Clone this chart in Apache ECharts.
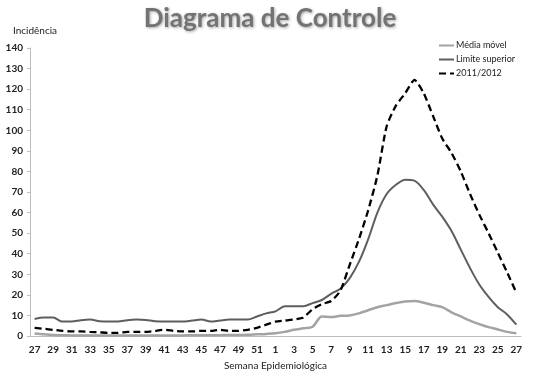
<!DOCTYPE html>
<html>
<head>
<meta charset="utf-8">
<script src="https://cdn.jsdelivr.net/npm/echarts@6/dist/echarts.min.js"></script>
<style>
  html, body { margin: 0; padding: 0; background: #fff; }
  #chart { width: 538px; height: 376px; }
</style>
</head>
<body>
<div id="chart"></div>
<script>
// semanas epidemiológicas 27/2011 .. 27/2012
var semanas = [
  '27','28','29','30','31','32','33','34','35','36','37','38','39','40',
  '41','42','43','44','45','46','47','48','49','50','51','52',
  '1','2','3','4','5','6','7','8','9','10','11','12','13','14','15',
  '16','17','18','19','20','21','22','23','24','25','26','27'
];

// média móvel
var mediaMovel = [
  1.2, 0.8, 0.5, 0.4, 0.3, 0.3, 0.3, 0.3, 0.3, 0.3, 0.3, 0.3, 0.3, 0.3,
  0.3, 0.3, 0.3, 0.4, 0.4, 0.4, 0.4, 0.5, 0.5, 0.6, 0.8, 1.0,
  1.3, 2.0, 3.0, 3.8, 4.5, 9.5, 9.2, 9.8, 10, 11, 12.5, 14, 15, 16, 16.8,
  17, 16.2, 15, 14, 11.5, 9.5, 7.5, 5.8, 4.3, 3.2, 2.0, 1.3
];

// limite superior
var limiteSuperior = [
  8.3, 9.0, 9.0, 7.0, 7.0, 7.7, 8.0, 7.2, 7.0, 7.0, 7.7, 8.0, 7.8, 7.2,
  7.0, 7.0, 7.0, 7.5, 8.0, 7.0, 7.5, 8.0, 8.0, 8.0, 9.5, 11,
  12, 14.5, 14.5, 14.5, 16, 17.5, 20.5, 23, 28, 36, 47, 60, 69, 73.5, 76,
  75.5, 71, 64, 58, 51, 42, 33, 25, 19, 14, 10.5, 5.5
];

// incidência 2011/2012
var temporada = [
  4.0, 3.5, 3.0, 2.5, 2.2, 2.2, 2.0, 1.8, 1.5, 1.5, 2.0, 2.0, 2.0, 2.5,
  3.0, 2.5, 2.2, 2.2, 2.5, 2.5, 3.0, 2.5, 2.5, 3.0, 4.0, 5.5,
  7.0, 7.5, 8.0, 9.0, 13, 15.5, 17, 22, 34.5, 47, 61, 78, 102, 112, 118,
  124.5, 118, 107, 96, 89, 80, 69, 59, 50, 40.5, 31, 21
];

var myChart = echarts.init(document.getElementById('chart'));

var options = {
  animation: false,
  title: {
    text: 'Diagrama de Controle',
    left: 265,
    textAlign: 'center',
    top: 1,
    textStyle: {
      fontFamily: 'Lato',
      fontWeight: 'bold',
      fontSize: 26,
      color: '#737373',
      textShadowColor: 'rgba(0,0,0,0.35)',
      textShadowBlur: 3,
      textShadowOffsetX: 1,
      textShadowOffsetY: 1
    }
  },
  legend: {
    orient: 'vertical',
    left: 433,
    top: 36,
    itemWidth: 15,
    itemHeight: 8,
    itemGap: 5,
    itemStyle: { opacity: 0 },
    textStyle: { fontFamily: 'Lato', fontSize: 9, color: '#222', padding: [0, 0, 0, -3] },
    data: ['Média móvel', 'Limite superior', '2011/2012']
  },
  grid: {
    left: 30,
    right: 17,
    top: 48,
    bottom: 38
  },
  xAxis: {
    type: 'category',
    boundaryGap: true,
    data: semanas,
    name: 'Semana Epidemiológica',
    nameLocation: 'middle',
    nameGap: 25,
    nameTextStyle: { fontFamily: 'Lato', fontSize: 10, color: '#222' },
    axisLine: { lineStyle: { color: '#bdbdbd', width: 1 } },
    axisTick: { interval: 2, length: 4, lineStyle: { color: '#bdbdbd' } },
    axisLabel: {
      interval: 1,
      margin: 9,
      fontFamily: 'Lato',
      fontWeight: 'bold',
      fontSize: 10,
      color: '#222'
    },
    splitLine: { show: false }
  },
  yAxis: {
    type: 'value',
    min: 0,
    max: 140,
    interval: 10,
    name: 'Incidência',
    nameLocation: 'end',
    nameGap: 12,
    nameTextStyle: { fontFamily: 'Lato', fontSize: 10, color: '#222', align: 'center', padding: [0, 0, 0, 10] },
    axisLine: { show: true, lineStyle: { color: '#bdbdbd', width: 1 } },
    axisTick: { show: true, length: 3, lineStyle: { color: '#bdbdbd' } },
    axisLabel: {
      margin: 7,
      fontFamily: 'Lato',
      fontWeight: 'bold',
      fontSize: 10,
      color: '#222'
    },
    splitLine: { show: false }
  },
  series: [
    {
      name: 'Média móvel',
      type: 'line',
      data: mediaMovel,
      symbol: 'none',
      smooth: 0.3,
      lineStyle: { color: '#a3a3a3', width: 2.5 },
      itemStyle: { color: '#a3a3a3' }
    },
    {
      name: 'Limite superior',
      type: 'line',
      data: limiteSuperior,
      symbol: 'none',
      smooth: 0.3,
      lineStyle: { color: '#5e5e5e', width: 2 },
      itemStyle: { color: '#5e5e5e' }
    },
    {
      name: '2011/2012',
      type: 'line',
      data: temporada,
      symbol: 'none',
      smooth: 0.2,
      lineStyle: { color: '#000', width: 2.3, type: [7, 4] },
      itemStyle: { color: '#000' }
    }
  ]
};

myChart.setOption(options);
</script>
</body>
</html>
